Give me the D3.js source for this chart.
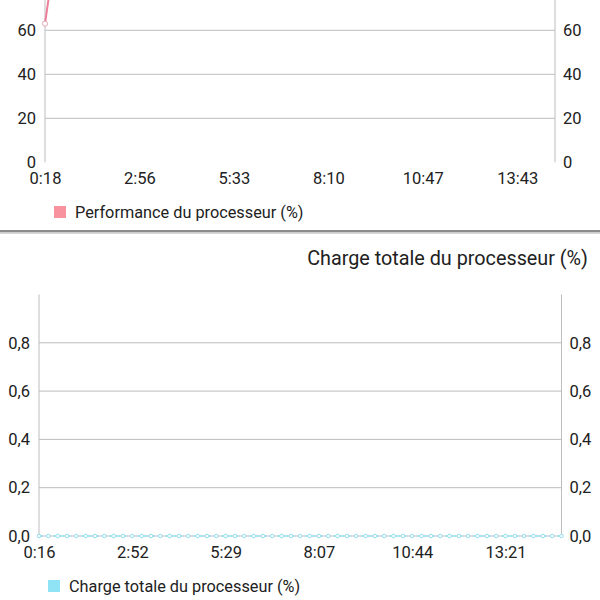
<!DOCTYPE html>
<html>
<head>
<meta charset="utf-8">
<script src="https://cdn.jsdelivr.net/npm/d3@7/dist/d3.min.js"></script>
<style>
  html, body { margin: 0; padding: 0; background: #fff; }
  svg { display: block; font-family: Roboto, "Noto Sans", sans-serif; }
</style>
</head>
<body>
<svg id="chart" width="600" height="600"></svg>
<script>
// ---- Data ----
const perfLabels = ["0:18", "2:56", "5:33", "8:10", "10:47", "13:43"];
const perfValues = [63, 93, 100, 100, 100, 100, 100, 100, 100, 100,
                    100, 100, 100, 100, 100, 100, 100, 100, 100, 100,
                    100, 100, 100, 100, 100, 100, 100, 100, 100, 100,
                    100, 100, 100, 100, 100, 100, 100, 100, 100, 100,
                    100, 100, 100, 100, 100, 100, 100, 100, 100, 100,
                    100, 100, 100, 100, 100];
const perfTicks = [0, 20, 40, 60];
const perfName = "Performance du processeur (%)";

const loadLabels = ["0:16", "2:52", "5:29", "8:07", "10:44", "13:21"];
const loadValues = [0, 0, 0, 0, 0, 0, 0, 0, 0, 0,
                    0, 0, 0, 0, 0, 0, 0, 0, 0, 0,
                    0, 0, 0, 0, 0, 0, 0, 0, 0, 0,
                    0, 0, 0, 0, 0, 0, 0, 0, 0, 0,
                    0, 0, 0, 0, 0, 0, 0, 0, 0, 0,
                    0, 0, 0, 0, 0, 0, 0];
const loadTicks = [0.0, 0.2, 0.4, 0.6, 0.8];
const loadName = "Charge totale du processeur (%)";

const labelStep = 10; // samples between time labels

// ---- Drawing ----
const svg = d3.select("#chart");
const fmtComma = d => d.toFixed(1).replace(".", ",");

function drawChart(cfg) {
  const g = svg.append("g");
  const x = d3.scaleLinear().domain([0, cfg.values.length - 1]).range([cfg.left, cfg.right]);
  const y = d3.scaleLinear().domain(cfg.domain).range([cfg.bottom, cfg.top]);

  const clipId = "clip" + cfg.id;
  svg.append("clipPath").attr("id", clipId)
    .append("rect").attr("x", cfg.left - 6).attr("y", cfg.top - 6)
    .attr("width", cfg.right - cfg.left + 12).attr("height", cfg.bottom - cfg.top + 12);

  // gridlines
  g.append("g").selectAll("line").data(cfg.grid).join("line")
    .attr("x1", cfg.left).attr("x2", cfg.right)
    .attr("y1", d => y(d)).attr("y2", d => y(d))
    .attr("stroke", "#bdbdbd").attr("stroke-width", 1);

  // vertical axis lines
  [cfg.left, cfg.right].forEach(px => {
    g.append("line").attr("x1", px).attr("x2", px)
      .attr("y1", cfg.top).attr("y2", cfg.bottom)
      .attr("stroke", "#bdbdbd").attr("stroke-width", 1);
  });

  // y labels (left and right) via d3 axes
  const yl = d3.axisLeft(y).tickValues(cfg.ticks).tickSize(0).tickPadding(9).tickFormat(cfg.fmt);
  const yr = d3.axisRight(y).tickValues(cfg.ticks).tickSize(0).tickPadding(8).tickFormat(cfg.fmt);
  [[yl, cfg.left], [yr, cfg.right]].forEach(([ax, px]) => {
    const a = g.append("g").attr("transform", `translate(${px},0)`).call(ax);
    a.select(".domain").remove();
    a.selectAll("text").attr("font-size", 16.5).attr("fill", "#212121")
      .attr("font-family", "Roboto");
  });

  // x labels
  const xTickIdx = cfg.labels.map((l, i) => i * labelStep);
  const xa = d3.axisBottom(x).tickValues(xTickIdx).tickSize(0).tickPadding(10)
    .tickFormat((d, i) => cfg.labels[i]);
  const xg = g.append("g").attr("transform", `translate(0,${cfg.bottom})`).call(xa);
  xg.select(".domain").remove();
  xg.selectAll("text").attr("font-size", 16.5).attr("fill", "#212121").attr("font-family", "Roboto");

  // line
  const line = d3.line().x((d, i) => x(i)).y(d => y(d));
  const lg = g.append("g").attr("clip-path", `url(#${clipId})`);
  lg.append("path").datum(cfg.values)
    .attr("d", line).attr("fill", "none")
    .attr("stroke", cfg.color).attr("stroke-width", cfg.lineWidth)
    .attr("stroke-dasharray", cfg.dash || null);
  lg.selectAll("circle").data(cfg.values).join("circle")
    .attr("cx", (d, i) => x(i)).attr("cy", d => y(d))
    .attr("r", cfg.r).attr("fill", "#fff")
    .attr("stroke", cfg.markerStroke).attr("stroke-width", 1);

  // legend
  g.append("rect").attr("x", cfg.legendX).attr("y", cfg.legendY - 12)
    .attr("width", 12).attr("height", 12).attr("fill", cfg.legendColor);
  g.append("text").attr("x", cfg.legendX + 21).attr("y", cfg.legendY)
    .attr("font-size", 16.3).attr("fill", "#212121").text(cfg.name);
}

// top chart (scrolled, upper part outside the view)
drawChart({
  id: "perf", values: perfValues, labels: perfLabels, ticks: perfTicks, grid: [20, 40, 60, 80, 100],
  domain: [0, 100], left: 45, right: 555, top: 162.3 - 220, bottom: 162.3,
  fmt: d3.format("d"), color: "#ee7d98", lineWidth: 2, r: 2.6, markerStroke: "#e8a6b6",
  legendColor: "#f8929f", legendX: 54, legendY: 218, name: perfName
});

// divider
svg.append("rect").attr("x", 0).attr("y", 230).attr("width", 600).attr("height", 2.5).attr("fill", "#8c8c8c");
svg.append("rect").attr("x", 0).attr("y", 232.5).attr("width", 600).attr("height", 1.5).attr("fill", "#d6d6d6");

// bottom chart
drawChart({
  id: "load", values: loadValues, labels: loadLabels, ticks: loadTicks, grid: [0, 0.2, 0.4, 0.6, 0.8],
  domain: [0, 1], left: 39, right: 561.5, top: 294.5, bottom: 536,
  fmt: fmtComma, color: "#9ee6f2", lineWidth: 1.5, dash: "4,3", r: 1.8, markerStroke: "#8fdfee",
  legendColor: "#8fe3f5", legendX: 48, legendY: 592, name: loadName
});

// bottom chart title
svg.append("text").attr("x", 588).attr("y", 265).attr("text-anchor", "end")
  .attr("font-size", 19.8).attr("fill", "#212121").text(loadName);
</script>
</body>
</html>
